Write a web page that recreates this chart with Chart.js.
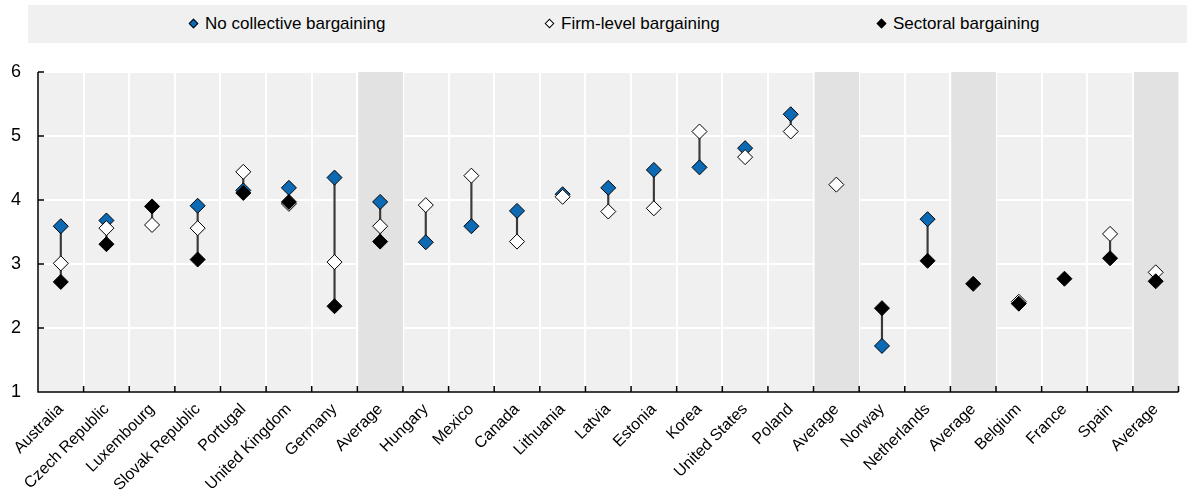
<!DOCTYPE html>
<html>
<head>
<meta charset="utf-8">
<script src="https://cdn.jsdelivr.net/npm/chart.js@4.4.0/dist/chart.umd.min.js"></script>
<style>
  body { margin: 0; background: #fff; font-family: "Liberation Sans", Arial, sans-serif; }
  #wrap { position: relative; width: 1187px; height: 497px; }
  #legend { position: absolute; left: 28px; top: 5px; width: 1159px; height: 38px; background: #f0f0f0; }
  .mk { position: absolute; top: 15px; width: 7px; height: 7px; transform: rotate(45deg); box-sizing: border-box; border: 1px solid #000; }
  .tx { position: absolute; top: 0; line-height: 38px; font-size: 17px; color: #000; white-space: nowrap; }
  canvas { position: absolute; left: 0; top: 0; }
</style>
</head>
<body>
<div id="wrap">
  <canvas id="chart" width="1187" height="497"></canvas>
  <div id="legend">
    <span class="mk" style="left:162px;background:#0b6ab3"></span>
    <span class="tx" style="left:177px">No collective bargaining</span>
    <span class="mk" style="left:518px;background:#fff"></span>
    <span class="tx" style="left:533px">Firm-level bargaining</span>
    <span class="mk" style="left:850px;background:#000"></span>
    <span class="tx" style="left:865px">Sectoral bargaining</span>
  </div>
</div>
<script>
"use strict";

const categories = [
  "Australia", "Czech Republic", "Luxembourg", "Slovak Republic", "Portugal",
  "United Kingdom", "Germany", "Average", "Hungary", "Mexico", "Canada",
  "Lithuania", "Latvia", "Estonia", "Korea", "United States", "Poland",
  "Average", "Norway", "Netherlands", "Average", "Belgium", "France",
  "Spain", "Average"
];

const noCollective = [
  3.59, 3.68, null, 3.91, 4.15, 4.19, 4.35, 3.97, 3.34, 3.59, 3.83,
  4.09, 4.19, 4.47, 4.51, 4.81, 5.34, null, 1.72, 3.70, null, null,
  null, null, null
];

const firmLevel = [
  3.01, 3.56, 3.61, 3.56, 4.44, 3.94, 3.03, 3.59, 3.92, 4.38, 3.35,
  4.05, 3.82, 3.87, 5.07, 4.67, 5.07, 4.24, null, null, null, 2.41,
  null, 3.47, 2.87
];

const sectoral = [
  2.72, 3.31, 3.90, 3.07, 4.11, 3.97, 2.34, 3.35, null, null, null,
  null, null, null, null, null, null, null, 2.31, 3.05, 2.69, 2.38,
  2.77, 3.09, 2.73
];

const yTicks = [1, 2, 3, 4, 5, 6];

// vertical connector from lowest to highest marker in each category
const ranges = categories.map((_, i) => {
  const vals = [noCollective[i], firmLevel[i], sectoral[i]].filter((v) => v != null);
  return [Math.min(...vals), Math.max(...vals)];
});

const plotBackground = {
  id: "plotBackground",
  beforeDraw(chart) {
    const { ctx, chartArea: a } = chart;
    ctx.save();
    ctx.fillStyle = "#f0f0f0";
    ctx.fillRect(a.left, a.top, a.right - a.left, a.bottom - a.top);
    ctx.restore();
  },
  beforeDatasetsDraw(chart) {
    const { ctx, chartArea: a, scales } = chart;
    const x = scales.x;
    const w = x.getPixelForValue(1) - x.getPixelForValue(0);
    ctx.save();
    ctx.fillStyle = "#e2e2e2";
    categories.forEach((c, i) => {
      if (c !== "Average") return;
      const cx = x.getPixelForValue(i);
      ctx.fillRect(cx - w / 2 + 1, a.top, w - 1, a.bottom - a.top);
    });
    ctx.restore();
  },
  afterDatasetsDraw(chart) {
    const { ctx, chartArea: a, scales } = chart;
    const x = scales.x, y = scales.y;
    const w = x.getPixelForValue(1) - x.getPixelForValue(0);
    ctx.save();
    ctx.strokeStyle = "#000";
    ctx.lineWidth = 1.5;
    ctx.beginPath();
    ctx.moveTo(a.left, a.top);
    ctx.lineTo(a.left, a.bottom);
    ctx.lineTo(a.right, a.bottom);
    // inward ticks on x axis at category boundaries
    categories.forEach((_, i) => {
      const bx = x.getPixelForValue(i) + w / 2;
      ctx.moveTo(bx, a.bottom);
      ctx.lineTo(bx, a.bottom - 6);
    });
    // inward ticks on y axis
    yTicks.forEach((t) => {
      const py = y.getPixelForValue(t);
      ctx.moveTo(a.left, py);
      ctx.lineTo(a.left + 6, py);
    });
    ctx.stroke();
    ctx.restore();
  },
};

const marker = {
  type: "line",
  showLine: false,
  pointStyle: "rectRot",
  pointRadius: 7.5,
  pointHoverRadius: 7.5,
  pointBorderColor: "#000",
  pointBorderWidth: 1,
};

new Chart(document.getElementById("chart"), {
  type: "bar",
  data: {
    labels: categories,
    datasets: [
      { ...marker, label: "No collective bargaining", data: noCollective, pointBackgroundColor: "#0b6ab3", order: 3 },
      { ...marker, label: "Firm-level bargaining", data: firmLevel, pointBackgroundColor: "#ffffff", order: 2 },
      { ...marker, label: "Sectoral bargaining", data: sectoral, pointBackgroundColor: "#000000", order: 1 },
      { type: "bar", label: "range", data: ranges, backgroundColor: "#3a3a3a", barThickness: 1.5, order: 4 },
    ],
  },
  options: {
    responsive: false,
    animation: false,
    events: [],
    layout: { padding: { top: 72, right: 0, bottom: 0, left: 0 } },
    plugins: { legend: { display: false }, tooltip: { enabled: false } },
    scales: {
      x: {
        offset: true,
        grid: { offset: true, color: "#ffffff", lineWidth: 2, drawTicks: false },
        border: { display: false },
        ticks: {
          autoSkip: false,
          minRotation: 45,
          maxRotation: 45,
          padding: 8,
          color: "#000",
          font: { family: "'Liberation Sans', Arial, sans-serif", size: 16 },
        },
        afterFit: (s) => { s.height = 105; },
      },
      y: {
        min: 1,
        max: 6,
        afterBuildTicks: (s) => { s.ticks = yTicks.map((v) => ({ value: v })); },
        grid: { color: "#ffffff", lineWidth: 2, drawTicks: false },
        border: { display: false },
        ticks: {
          padding: 17,
          color: "#000",
          font: { family: "'Liberation Sans', Arial, sans-serif", size: 18 },
        },
        afterFit: (s) => { s.width = 38; },
      },
    },
  },
  plugins: [plotBackground],
});
</script>
</body>
</html>
